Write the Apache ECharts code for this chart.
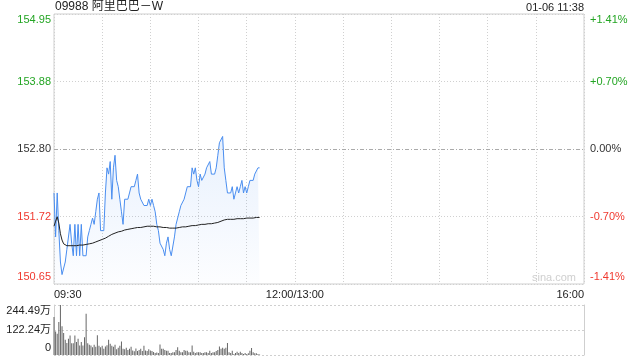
<!DOCTYPE html>
<html><head><meta charset="utf-8">
<script src="https://cdn.jsdelivr.net/npm/echarts@6/dist/echarts.min.js"></script>
<style>html,body{margin:0;padding:0;background:#fff}#c{width:640px;height:360px}</style>
</head><body><div id="c"></div>
<script>
const title = '09988 阿里巴巴－W';
const stamp = '01-06 11:38';
const watermark = 'sina.com';
const prevClose = 152.80;
const priceTicks = ['150.65','151.72','152.80','153.88','154.95'];
const pctTicks = ['-1.41%','-0.70%','0.00%','+0.70%','+1.41%'];
const volTicks = ['0','122.24万','244.49万'];
const timeTicks = ['09:30','12:00/13:00','16:00'];
const timeTickMinutes = [0,150,330];

// price per minute from 09:30
const prices = [
152.1,151.4,152.1,151.5,151.0,150.8,150.8,151.0,151.2,151.2,
151.6,151.3,151.1,151.6,151.1,151.6,151.1,151.6,151.1,151.1,
151.1,151.4,151.5,151.6,151.7,151.6,151.8,152.0,152.1,151.5,
151.5,151.5,152.1,152.5,152.4,152.6,152.0,152.5,152.7,152.3,
152.2,152.0,151.8,151.6,152.0,152.0,152.0,152.1,152.2,152.2,
152.2,152.3,152.4,152.1,152.0,152.0,151.9,151.9,151.9,152.0,
151.9,152.0,151.9,151.8,151.6,151.5,151.3,151.3,151.2,151.1,
151.3,151.4,151.2,151.1,151.1,151.4,151.6,151.7,151.8,151.9,
151.9,152.0,152.1,152.2,152.2,152.2,152.5,152.4,152.5,152.3,
152.2,152.4,152.3,152.3,152.4,152.5,152.5,152.6,152.4,152.4,
152.4,152.5,152.7,152.9,152.9,153.0,152.5,152.3,152.1,152.1,
152.1,152.2,152.0,152.0,152.2,152.1,152.2,152.3,152.1,152.2,
152.1,152.2,152.3,152.3,152.3,152.4,152.4,152.5,152.5
];
const avgPrices = [
151.57,151.65,151.72,151.62,151.45,151.35,151.29,151.27,151.26,151.26,
151.26,151.26,151.26,151.26,151.26,151.26,151.27,151.27,151.27,151.27,
151.28,151.28,151.29,151.30,151.30,151.31,151.32,151.33,151.34,151.35,
151.36,151.37,151.38,151.40,151.41,151.42,151.44,151.45,151.46,151.47,
151.48,151.49,151.49,151.50,151.51,151.51,151.52,151.53,151.53,151.54,
151.54,151.54,151.55,151.55,151.55,151.56,151.56,151.56,151.57,151.57,
151.57,151.57,151.57,151.57,151.56,151.56,151.56,151.55,151.55,151.55,
151.55,151.54,151.54,151.54,151.54,151.54,151.54,151.55,151.55,151.55,
151.56,151.56,151.56,151.57,151.57,151.57,151.58,151.58,151.58,151.59,
151.59,151.59,151.60,151.60,151.60,151.60,151.61,151.61,151.61,151.61,
151.62,151.62,151.63,151.64,151.65,151.66,151.67,151.67,151.68,151.68,
151.68,151.68,151.68,151.69,151.69,151.69,151.69,151.69,151.69,151.70,
151.70,151.70,151.70,151.70,151.70,151.70,151.71,151.71,151.71
];
// volume in 万 shares
const volumes = [
186,115,104,161,244.49,140,107,75,59,79,
95,58,58,95,63,79,46,63,46,87,
202,58,50,46,38,50,40,97,45,38,
45,30,42,48,75,55,45,40,50,28,
35,45,66,30,28,35,25,30,40,22,
18,32,20,25,30,20,45,22,20,28,
22,20,15,10,12,10,51,30,30,25,
21,21,10,10,13,13,25,38,21,13,
13,25,21,21,13,13,46,16,10,13,
13,13,10,10,13,13,10,21,10,13,
13,20,25,41,30,35,30,35,59,13,
10,21,5,10,16,10,16,10,5,10,
5,8,21,34,13,8,8,5,3
];

const UP = '#23a523', DOWN = '#f0392f', ZERO = '#333';
const FONT = 'Arial, "Liberation Sans", "Noto Sans CJK SC", sans-serif';
const volMax = 244.49;

function tickIdx(v){ return Math.round((v + 215) / 107.5); }
function richFor(color){
  return {
    t: {color, padding:[12,0,0,0], fontSize:11, fontFamily:FONT},
    m: {color, fontSize:11, fontFamily:FONT},
    b: {color, padding:[0,0,14,0], fontSize:11, fontFamily:FONT}
  };
}
const rich = {};
[['g',UP],['r',DOWN],['z',ZERO]].forEach(([k,c])=>{
  const r = richFor(c);
  rich['t'+k]=r.t; rich['m'+k]=r.m; rich['b'+k]=r.b;
});
function fmtSide(arr){
  return function(v){
    const i = tickIdx(v);
    const txt = arr[i];
    if (txt === undefined) return '';
    const col = i > 2 ? 'g' : (i < 2 ? 'r' : 'z');
    const pos = i === 4 ? 't' : (i === 0 ? 'b' : 'm');
    return '{' + pos + col + '|' + txt + '}';
  };
}

const chart = echarts.init(document.getElementById('c'), null, {renderer:'canvas'});
chart.setOption({
  animation: false,
  backgroundColor: '#fff',
  textStyle: {fontFamily: FONT},
  graphic: [
    {type:'text', left:55, top:1, style:{text:title, fontSize:12, fill:'#222', fontFamily:'Arial, "Liberation Sans", "Noto Sans CJK SC", sans-serif'}},
    {type:'text', right:56, top:2, style:{text:stamp, fontSize:11, fill:'#222', fontFamily:FONT}},
    {type:'text', left:532, top:272, z:0, style:{text:watermark, fontSize:11, fill:'#cfcfcf', fontFamily:FONT}}
  ],
  grid: [
    {left:54, right:56, top:14, height:270, show:true, borderColor:'#cfcfcf', borderWidth:1},
    {left:54, right:56, top:305, height:50}
  ],
  xAxis: [
    {type:'value', gridIndex:0, min:0, max:330, interval:30,
     axisLine:{show:false}, axisTick:{show:false},
     splitLine:{show:true, lineStyle:{color:'#d0d0d0', type:[1,2], width:1}},
     axisLabel:{show:true, margin:5, fontSize:11, color:'#222', fontFamily:FONT,
       showMinLabel:true, showMaxLabel:true, alignMinLabel:'left', alignMaxLabel:'right',
       formatter: v => { const k = timeTickMinutes.indexOf(v); return k>=0 ? timeTicks[k] : ''; }}},
    {type:'value', gridIndex:1, min:0, max:330, interval:30,
     axisLine:{show:false}, axisTick:{show:false}, splitLine:{show:false}, axisLabel:{show:false}}
  ],
  yAxis: [
    {type:'value', gridIndex:0, min:-215, max:215, interval:107.5, position:'left',
     axisLine:{show:false}, axisTick:{show:false},
     splitLine:{show:true, lineStyle:{color:'#d0d0d0', type:[1,2]}},
     axisLabel:{margin:3, formatter: fmtSide(priceTicks), rich, showMinLabel:true, showMaxLabel:true}},
    {type:'value', gridIndex:0, min:-215, max:215, interval:107.5, position:'right',
     axisLine:{show:false}, axisTick:{show:false}, splitLine:{show:false},
     axisLabel:{margin:6, formatter: fmtSide(pctTicks), rich, showMinLabel:true, showMaxLabel:true}},
    {type:'value', gridIndex:1, min:0, max:volMax, interval:volMax/2, position:'left',
     axisLine:{show:true, lineStyle:{color:'#cfcfcf'}}, axisTick:{show:false},
     splitLine:{show:true, lineStyle:{color:'#cfcfcf', type:[2,2], width:1}},
     axisLabel:{margin:3, fontSize:11, color:'#222', showMinLabel:true, showMaxLabel:true,
       formatter: v => { const i = Math.round(v/(volMax/2)); const s = volTicks[i];
         return i===2 ? '{t|'+s+'}' : (i===0 ? '{b|'+s+'}' : '{m|'+s+'}'); },
       rich:{t:{padding:[12,0,0,0],fontSize:11,color:'#222'}, m:{fontSize:11,color:'#222'}, b:{padding:[0,0,14,0],fontSize:11,color:'#222'}}}},
    {type:'value', gridIndex:1, min:0, max:volMax, interval:volMax/2, position:'right',
     axisLine:{show:true, lineStyle:{color:'#cfcfcf'}}, axisTick:{show:false},
     splitLine:{show:false}, axisLabel:{show:false}}
  ],
  series: [
    {type:'line', xAxisIndex:0, yAxisIndex:0, symbol:'none', z:3,
     data: prices.map((p,i)=>[i, (p - prevClose)*100]),
     lineStyle:{color:'#4a8ef0', width:1},
     areaStyle:{origin:'start', color:new echarts.graphic.LinearGradient(0,0,0,1,[
       {offset:0, color:'rgba(74,142,240,0.18)'},{offset:1, color:'rgba(74,142,240,0.02)'}])},
     markLine:{silent:true, symbol:'none', label:{show:false},
       lineStyle:{color:'#aaaaaa', type:[4,2,1,2], width:1},
       data:[{yAxis:0}]}},
    {type:'line', xAxisIndex:0, yAxisIndex:0, symbol:'none', z:4,
     data: avgPrices.map((p,i)=>[i, (p - prevClose)*100]),
     lineStyle:{color:'#222', width:1}},
    {type:'bar', xAxisIndex:1, yAxisIndex:2, barWidth:1,
     data: volumes.map((v,i)=>[i, v]),
     itemStyle:{color:'#666'}}
  ]
});
</script></body></html>
